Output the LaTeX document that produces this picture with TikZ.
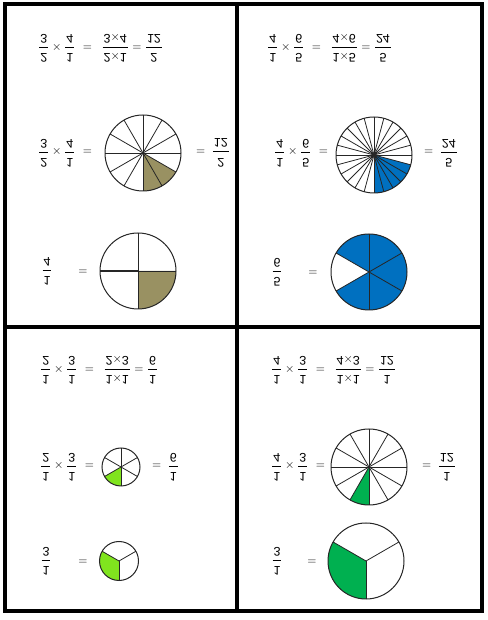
\documentclass[tikz,border=0pt]{standalone}
\usepackage{amsmath}
\usepackage{fontspec}
\setmainfont{Liberation Sans}
\usepackage{tikz}
\definecolor{khaki}{RGB}{153,145,98}
\definecolor{skyblue}{RGB}{0,112,192}
\definecolor{lightlime}{RGB}{128,228,30}
\definecolor{leafgreen}{RGB}{0,176,80}
\newcommand{\fr}[2]{\dfrac{\text{\kern1pt\raisebox{1.5pt}{#1}\kern1pt}}{\text{\kern1pt\raisebox{-1.5pt}{#2}\kern1pt}}}
\tikzstyle{frame} = [line width=4pt, line join=miter]
\tikzstyle{mathrow} = [inner sep=0pt, yscale=-1, font=\fontsize{12.5}{15}\selectfont]
\tikzstyle{spoke} = [line width=0.8pt, draw=black!85]
\tikzstyle{rim} = [line width=1pt, draw=black!85]

\begin{document}
\begin{tikzpicture}[x=1pt, y=1pt]
    \useasboundingbox (0,0) rectangle (487,620);

    % frame of the four panels
    \draw[frame] (5,8.5) rectangle (482,615.5);
    \draw[frame] (237,8.5) -- (237,615.5);
    \draw[frame] (5,292.5) -- (482,292.5);

    % panel top left
    \node(sumA)[mathrow, anchor=west] at (38,572) {$\fr{2}{3}\times\fr{1}{4}\hspace{4pt}=\hspace{6pt}\fr{2$\times$1}{3$\times$4}=\fr{2}{12}$};
    \node(sumB)[mathrow, anchor=west] at (38,467) {$\fr{2}{3}\times\fr{1}{4}\hspace{4pt}=$};
    \node(resB)[mathrow, anchor=west] at (196,467) {$=\hspace{3pt}\fr{2}{12}$};
    \node(fracC)[mathrow] at (47,349) {$\fr{1}{4}$};
    \node(eqC)[mathrow] at (83,349) {$=$};

    \coordinate (pieB) at (143,467);
    \fill[khaki] (pieB) -- ++(270:38) arc[start angle=270, end angle=330, radius=38] -- cycle;
    \foreach \a in {0,30,...,330} \draw[spoke] (pieB) -- ++(\a:38);
    \draw[rim] (pieB) circle[radius=38];

    \coordinate (pieC) at (138,349);
    \fill[khaki] (pieC) -- ++(270:38) arc[start angle=270, end angle=360, radius=38] -- cycle;
    \foreach \a in {0,90,270} \draw[spoke] (pieC) -- ++(\a:38);
    \draw[spoke, line width=1.6pt] (pieC) -- ++(180:38);
    \draw[rim] (pieC) circle[radius=38];

    % panel top right
    \node(sumD)[mathrow, anchor=west] at (267,572) {$\fr{1}{4}\times\fr{5}{6}\hspace{4pt}=\hspace{6pt}\fr{1$\times$5}{4$\times$6}=\fr{5}{24}$};
    \node(sumE)[mathrow, anchor=west] at (274,467) {$\fr{1}{4}\times\fr{5}{6}\hspace{4pt}=$};
    \node(resE)[mathrow, anchor=west] at (424,467) {$=\hspace{3pt}\fr{5}{24}$};
    \node(fracF)[mathrow] at (277,348) {$\fr{5}{6}$};
    \node(eqF)[mathrow] at (313,348) {$=$};

    \coordinate (pieE) at (374,465);
    \fill[skyblue] (pieE) -- ++(270:38) arc[start angle=270, end angle=345, radius=38] -- cycle;
    \foreach \a in {0,15,...,345} \draw[spoke] (pieE) -- ++(\a:38);
    \draw[rim] (pieE) circle[radius=38];

    \coordinate (pieF) at (369,348);
    \fill[skyblue] (pieF) -- ++(210:38) arc[start angle=210, end angle=510, radius=38] -- cycle;
    \foreach \a in {30,90,...,330} \draw[spoke] (pieF) -- ++(\a:38);
    \draw[rim] (pieF) circle[radius=38];

    % panel bottom left
    \node(sumG)[mathrow, anchor=west] at (40,250) {$\fr{1}{2}\times\fr{1}{3}\hspace{4pt}=\hspace{6pt}\fr{1$\times$1}{2$\times$3}=\fr{1}{6}$};
    \node(sumH)[mathrow, anchor=west] at (40,153) {$\fr{1}{2}\times\fr{1}{3}\hspace{4pt}=$};
    \node(resH)[mathrow, anchor=west] at (152,153) {$=\hspace{3pt}\fr{1}{6}$};
    \node(fracI)[mathrow] at (46,59) {$\fr{1}{3}$};
    \node(eqI)[mathrow] at (83,59) {$=$};

    \coordinate (pieH) at (121,153);
    \fill[lightlime] (pieH) -- ++(210:19) arc[start angle=210, end angle=270, radius=19] -- cycle;
    \foreach \a in {30,90,...,330} \draw[spoke] (pieH) -- ++(\a:19);
    \draw[rim] (pieH) circle[radius=19];

    \coordinate (pieI) at (119,59);
    \fill[lightlime] (pieI) -- ++(150:19.5) arc[start angle=150, end angle=270, radius=19.5] -- cycle;
    \foreach \a in {30,150,270} \draw[spoke] (pieI) -- ++(\a:19.5);
    \draw[rim] (pieI) circle[radius=19.5];

    % panel bottom right
    \node(sumJ)[mathrow, anchor=west] at (271,250) {$\fr{1}{4}\times\fr{1}{3}\hspace{4pt}=\hspace{6pt}\fr{1$\times$1}{4$\times$3}=\fr{1}{12}$};
    \node(sumK)[mathrow, anchor=west] at (271,153) {$\fr{1}{4}\times\fr{1}{3}\hspace{4pt}=$};
    \node(resK)[mathrow, anchor=west] at (422,153) {$=\hspace{3pt}\fr{1}{12}$};
    \node(fracL)[mathrow] at (277,59) {$\fr{1}{3}$};
    \node(eqL)[mathrow] at (312,59) {$=$};

    \coordinate (pieK) at (369,153);
    \fill[leafgreen] (pieK) -- ++(240:38) arc[start angle=240, end angle=270, radius=38] -- cycle;
    \foreach \a in {0,30,...,330} \draw[spoke] (pieK) -- ++(\a:38);
    \draw[rim] (pieK) circle[radius=38];

    \coordinate (pieL) at (366,59);
    \fill[leafgreen] (pieL) -- ++(150:38) arc[start angle=150, end angle=270, radius=38] -- cycle;
    \foreach \a in {30,150,270} \draw[spoke] (pieL) -- ++(\a:38);
    \draw[rim] (pieL) circle[radius=38];

\end{tikzpicture}
\end{document}
